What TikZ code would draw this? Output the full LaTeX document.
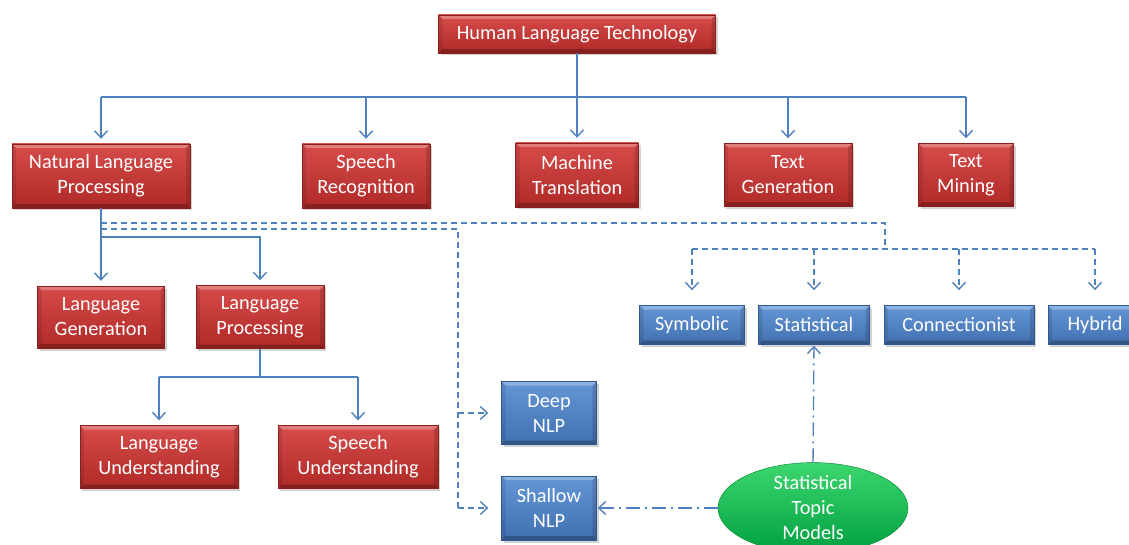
\documentclass[tikz,border=0pt]{standalone}
\usepackage{fontspec}
\setmainfont{Carlito}
\usetikzlibrary{arrows.meta,shadows,shapes.geometric}

\definecolor{linkblue}{RGB}{79,129,189}
\definecolor{redtop}{RGB}{214,76,74}
\definecolor{redbot}{RGB}{176,42,40}
\definecolor{rededge}{RGB}{140,30,28}
\definecolor{bluetop}{RGB}{100,150,214}
\definecolor{bluebot}{RGB}{64,112,176}
\definecolor{blueedge}{RGB}{48,88,140}
\definecolor{greentop}{RGB}{60,214,110}
\definecolor{greenbot}{RGB}{0,160,64}
\definecolor{greenedge}{RGB}{0,130,50}

\tikzset{
  x=1pt, y=1pt,
  % raised-button look: light top rim, dark bottom rim, shaded sides
  bevel/.style={path picture={
    \coordinate (bnw) at (path picture bounding box.north west);
    \coordinate (bne) at (path picture bounding box.north east);
    \coordinate (bsw) at (path picture bounding box.south west);
    \coordinate (bse) at (path picture bounding box.south east);
    \fill[white,opacity=0.28] (bnw) -- (bne) -- ([shift={(-4pt,-4pt)}]bne) -- ([shift={(4pt,-4pt)}]bnw) -- cycle;
    \fill[black,opacity=0.25] (bsw) -- (bse) -- ([shift={(-4pt,4pt)}]bse) -- ([shift={(4pt,4pt)}]bsw) -- cycle;
    \fill[black,opacity=0.10] (bnw) -- (bsw) -- ([shift={(4pt,4pt)}]bsw) -- ([shift={(4pt,-4pt)}]bnw) -- cycle;
    \fill[black,opacity=0.14] (bne) -- (bse) -- ([shift={(-4pt,4pt)}]bse) -- ([shift={(-4pt,-4pt)}]bne) -- cycle;
  }},
  box/.style={rectangle, inner sep=0pt, align=center, text=white,
    font=\fontsize{20.3}{25}\selectfont, bevel,
    drop shadow={shadow xshift=2pt, shadow yshift=-2.5pt, opacity=0.35}},
  redbox/.style={box, draw=rededge, top color=redtop, bottom color=redbot},
  bluebox/.style={box, draw=blueedge, top color=bluetop, bottom color=bluebot},
  topicnode/.style={ellipse, inner sep=0pt, align=center, text=white,
    font=\fontsize{20.3}{25}\selectfont, draw=greenedge,
    top color=greentop, bottom color=greenbot,
    minimum width=190pt, minimum height=84pt},
  wire/.style={draw=linkblue, line width=1.4pt},
  tip/.style={-{Straight Barb[length=7pt,width=13pt,line width=1.4pt]}},
  dashwire/.style={wire, dash pattern=on 6pt off 4pt},
  dotwire/.style={wire, dash pattern=on 14pt off 5pt on 2pt off 5pt}
}

\begin{document}
\begin{tikzpicture}
\useasboundingbox (0,0) rectangle (1129,-545);

% top level
\node[redbox, minimum width=277pt, minimum height=38pt] (hlt) at (577,-34) {Human Language Technology};

% branches of human language technology
\node[redbox, minimum width=178pt, minimum height=64pt] (nlp) at (101,-176) {Natural Language\\Processing};
\node[redbox, minimum width=128pt, minimum height=64pt] (sr)  at (366,-176) {Speech\\Recognition};
\node[redbox, minimum width=123pt, minimum height=64pt] (mt)  at (577,-175) {Machine\\Translation};
\node[redbox, minimum width=128pt, minimum height=63pt] (tg)  at (788,-175) {Text\\Generation};
\node[redbox, minimum width=95pt,  minimum height=63pt] (tm)  at (966,-175) {Text\\Mining};

% natural language processing subtree
\node[redbox, minimum width=127pt, minimum height=62pt] (lg) at (101,-317) {Language\\Generation};
\node[redbox, minimum width=128pt, minimum height=63pt] (lp) at (260,-317) {Language\\Processing};
\node[redbox, minimum width=158pt, minimum height=63pt] (lu) at (159,-457) {Language\\Understanding};
\node[redbox, minimum width=160pt, minimum height=63pt] (su) at (358,-457) {Speech\\Understanding};

% depth of analysis
\node[bluebox, minimum width=95pt, minimum height=63pt] (deep)    at (549,-413) {Deep\\NLP};
\node[bluebox, minimum width=95pt, minimum height=64pt] (shallow) at (549,-508) {Shallow\\NLP};

% approaches
\node[bluebox, minimum width=105pt, minimum height=39pt] (sym)  at (692,-325) {Symbolic};
\node[bluebox, minimum width=111pt, minimum height=39pt] (stat) at (814,-325) {Statistical};
\node[bluebox, minimum width=150pt, minimum height=39pt] (conn) at (959,-325) {Connectionist};
\node[bluebox, minimum width=94pt,  minimum height=39pt] (hyb)  at (1095,-325) {Hybrid};

\node[topicnode] (stm) at (813,-508) {Statistical\\Topic\\Models};

% bus lines
\coordinate (topbus) at (0,-97);
\coordinate (nlpbus) at (0,-237);
\coordinate (lpbus)  at (0,-377);
\coordinate (dturn)  at (885,-223);
\coordinate (appbus) at (0,-249);
\coordinate (nturn)  at (458,-229);

% human language technology tree
\draw[wire] (hlt.south) -- (hlt.south |- topbus);
\draw[wire] (topbus -| nlp.north) -- (topbus -| tm.north);
\foreach \n in {nlp,sr,mt,tg,tm}
  \draw[wire,tip,shorten >=5pt] (topbus -| \n.north) -- (\n.north);

% natural language processing tree
\draw[wire,tip,shorten >=5pt] (nlp.south) -- (lg.north);
\draw[wire,tip,shorten >=5pt] (nlpbus -| nlp.south) -| (lp.north);
\draw[wire] (lp.south) -- (lp.south |- lpbus);
\draw[wire] (lpbus -| lu.north) -- (lpbus -| su.north);
\foreach \n in {lu,su}
  \draw[wire,tip,shorten >=5pt] (lpbus -| \n.north) -- (\n.north);

% approaches (dashed)
\draw[dashwire] (nlp.south |- dturn) -- (dturn) -- (dturn |- appbus);
\draw[dashwire] (appbus -| sym.north) -- (appbus -| hyb.north);
\foreach \n in {sym,stat,conn,hyb}
  \draw[dashwire,tip,shorten >=15pt] (appbus -| \n.north) -- (\n.north);

% depth of analysis (dashed)
\draw[dashwire] (nlp.south |- nturn) -- (nturn) -- (nturn |- shallow.west);
\draw[dashwire,tip,shorten >=13pt] (nturn |- deep.west) -- (deep.west);
\draw[dashwire,tip,shorten >=13pt] (nturn |- shallow.west) -- (shallow.west);

% statistical topic models (dash-dot)
\draw[dotwire,tip,shorten >=1pt] (stm.north) -- (stat.south);
\draw[dotwire,tip,shorten >=1pt] (stm.west) -- (shallow.east);
\end{tikzpicture}
\end{document}
